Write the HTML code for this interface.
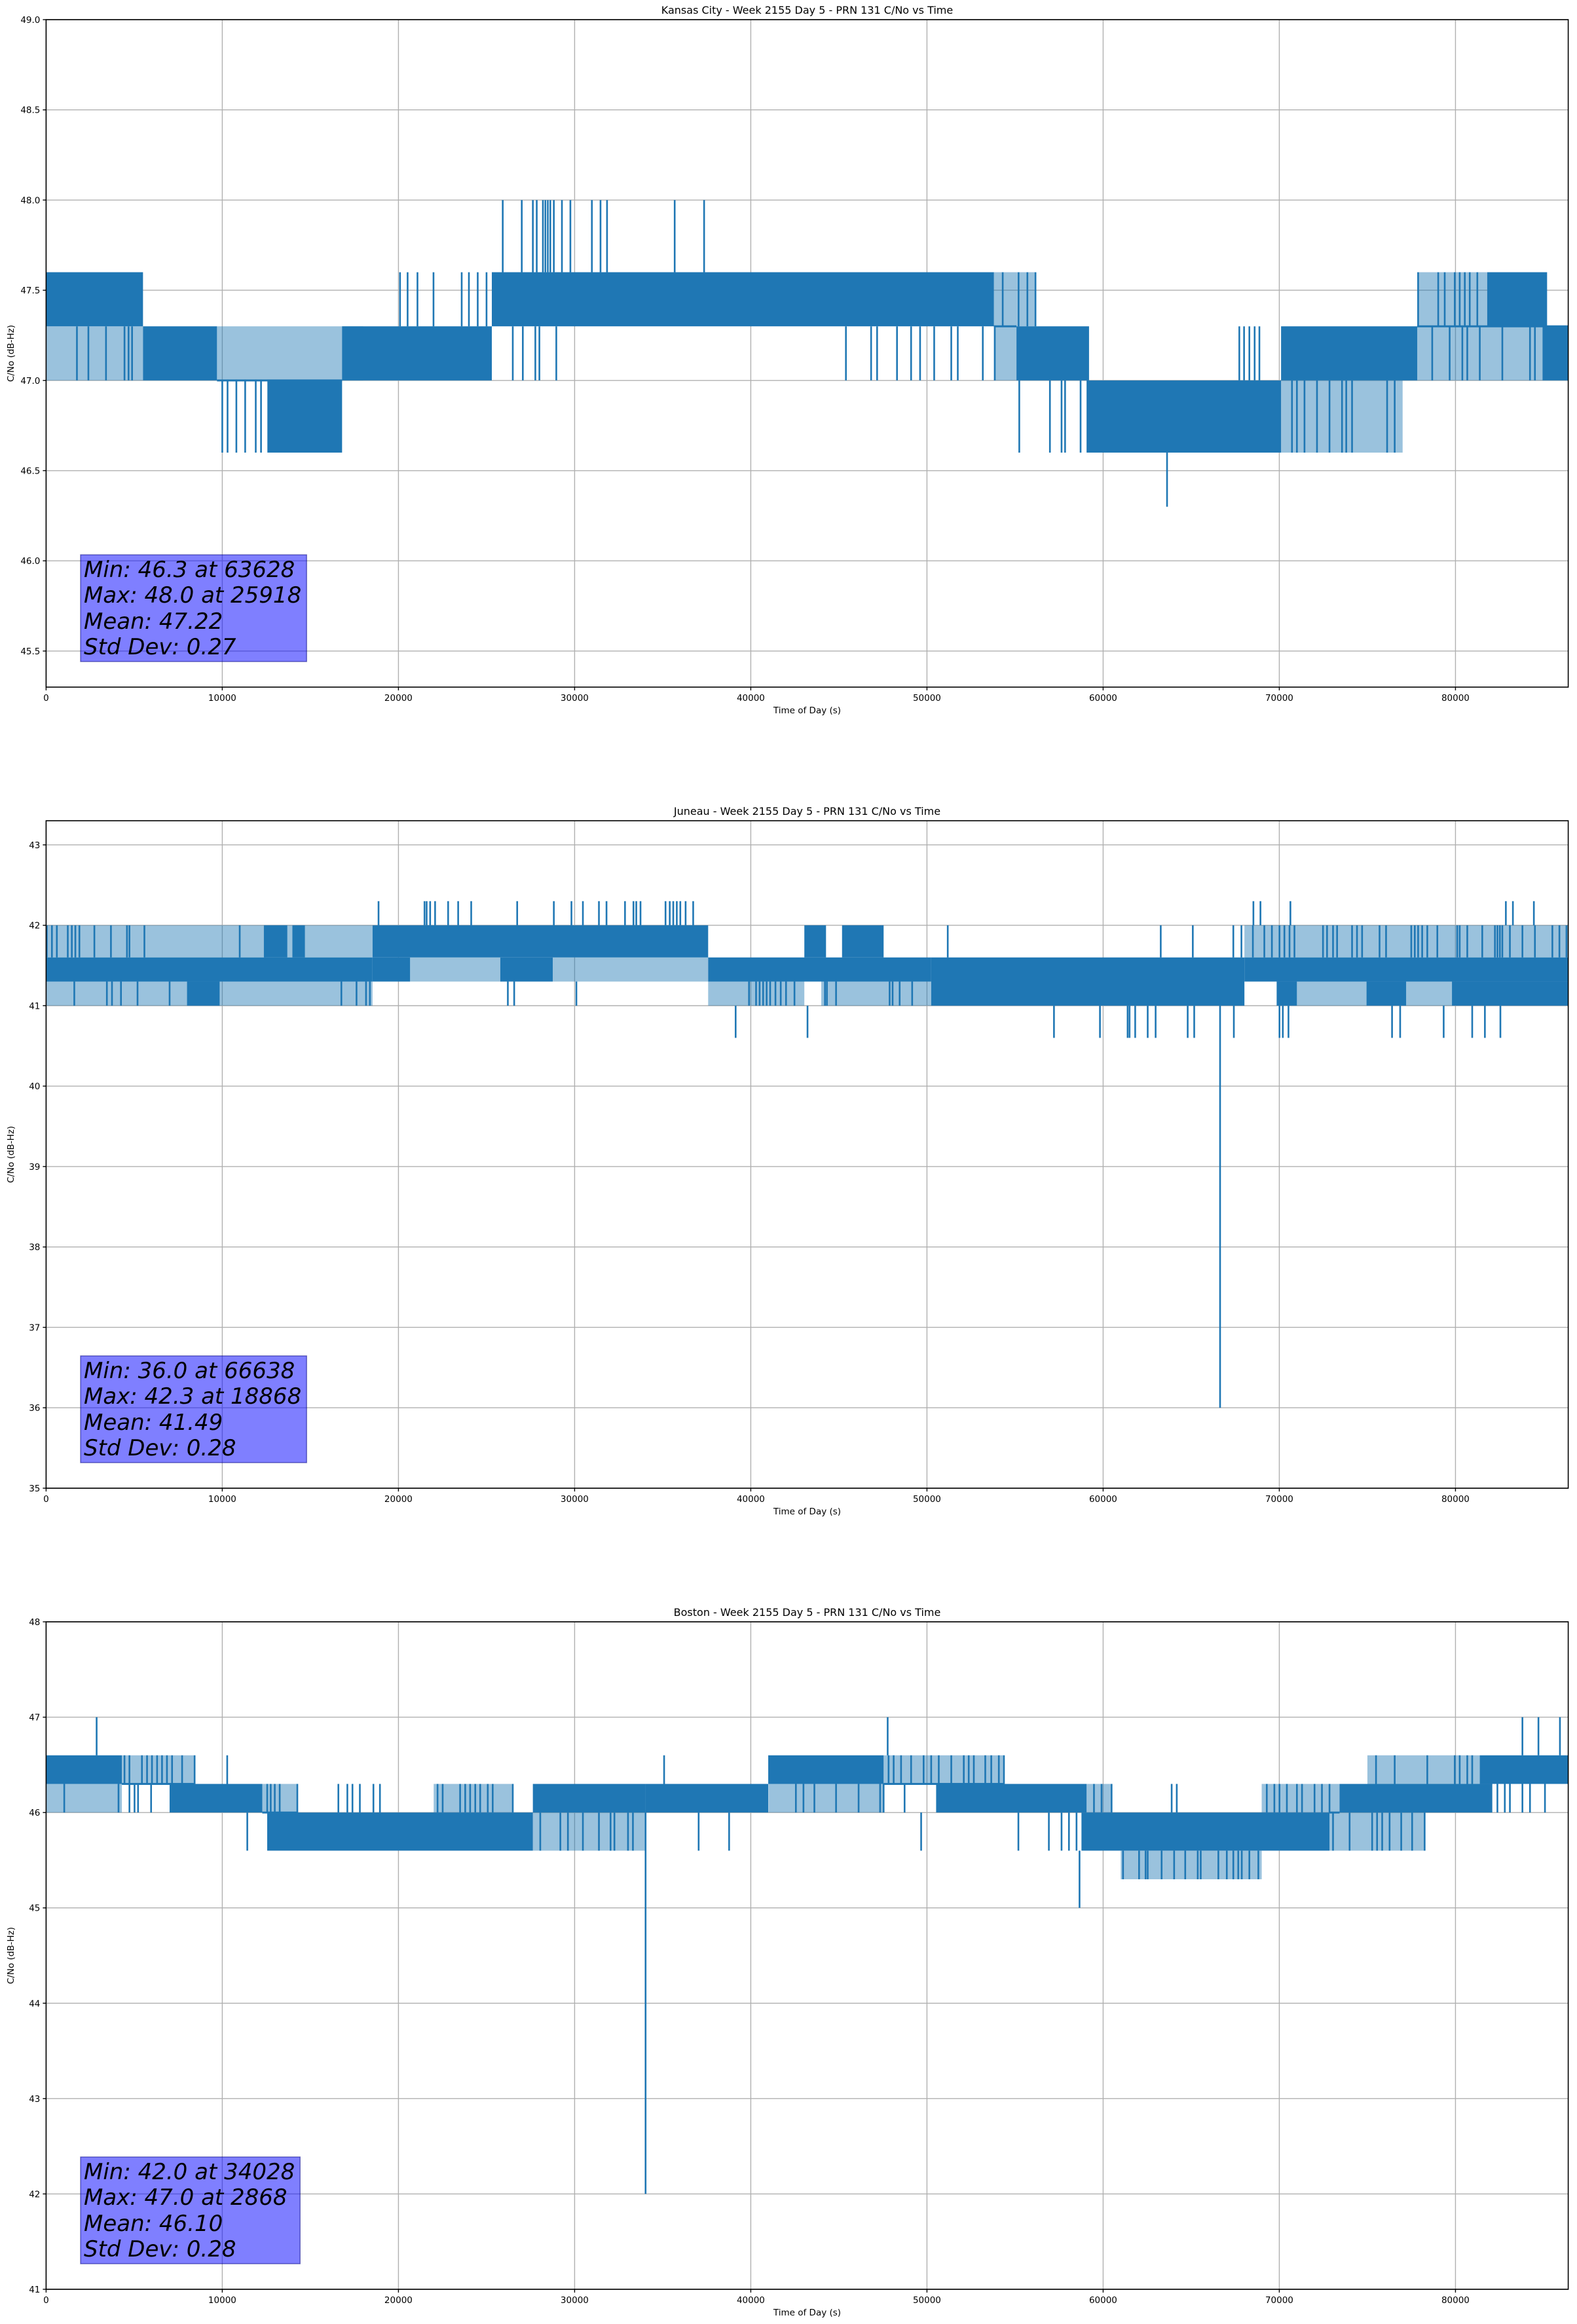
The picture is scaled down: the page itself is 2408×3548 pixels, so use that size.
<!DOCTYPE html>
<html><head><meta charset="utf-8">
<style>
html,body{margin:0;padding:0;background:#fff;}
svg{display:block;font-family:"DejaVu Sans","Liberation Sans",sans-serif;}
</style></head>
<body>
<svg id="fig" width="2408" height="3548" viewBox="0 0 2408 3548" xmlns="http://www.w3.org/2000/svg">
<rect x="0" y="0" width="2408" height="3548" fill="#fff"/>
</svg>
<script>
// ---------- shared axis data ----------
const xTicks = [0,10000,20000,30000,40000,50000,60000,70000,80000];
const xMax = 86400;

// ---------- Plot 1: Kansas City ----------
const p1Title = "Kansas City - Week 2155 Day 5 - PRN 131 C/No vs Time";
const p1YTicks = [45.5,46.0,46.5,47.0,47.5,48.0,48.5,49.0];
const p1YTickLabels = ["45.5","46.0","46.5","47.0","47.5","48.0","48.5","49.0"];
const p1YRange = [45.3,49.0];
const p1BandStart = [0,5500,9700,12560,16800,25300,53800,55080,59060,70100,77830,81800,84940];
const p1BandEnd   = [5500,9700,16800,16800,25300,53800,55080,59200,70100,77830,86400,85200,86400];
const p1BandLow   = [47.3,47.0,47.0,46.6,47.0,47.3,47.3,47.0,46.6,47.0,47.3,47.3,47.0];
const p1BandHigh  = [47.6,47.3,47.0,47.0,47.3,47.6,47.3,47.3,47.0,47.3,47.3,47.6,47.3];
const p1SparseStart = [9700,0,53800,53800,77830,77830,70100,16800];
const p1SparseEnd   = [16800,5500,56160,55080,81800,84940,77000,18000];
const p1SparseLow   = [47.0,47.0,47.3,47.0,47.3,47.0,46.6,47.0];
const p1SparseHigh  = [47.3,47.3,47.6,47.3,47.6,47.3,47.0,47.3];
const p1SpikeTime = [25920,27000,27630,27850,28200,28340,28480,28620,28820,29280,29760,30980,31470,31840,35680,37350,
  1750,2400,3400,4450,4680,4880,26490,27060,27770,28000,28960,
  20090,20520,21080,21990,23590,24000,24500,25000,
  45400,46830,47170,48300,49100,49610,50410,51380,51750,53170,53850,
  54300,55200,55700,56160,
  55240,56980,57640,57840,58720,
  67730,68000,68300,68600,68870,
  70720,71000,71430,72140,72850,73560,73800,74130,76120,76550,
  77880,79020,79390,79960,80240,80530,80810,81240,
  78680,79670,80390,80670,81380,82660,84230,84510,
  10000,10300,10800,11300,11900,12200,
  63628];
const p1SpikeLow = [47.6,47.6,47.6,47.6,47.6,47.6,47.6,47.6,47.6,47.6,47.6,47.6,47.6,47.6,47.6,47.6,
  47.0,47.0,47.0,47.0,47.0,47.0,47.0,47.0,47.0,47.0,47.0,
  47.3,47.3,47.3,47.3,47.3,47.3,47.3,47.3,
  47.0,47.0,47.0,47.0,47.0,47.0,47.0,47.0,47.0,47.0,47.0,
  47.3,47.3,47.3,47.3,
  46.6,46.6,46.6,46.6,46.6,
  47.0,47.0,47.0,47.0,47.0,
  46.6,46.6,46.6,46.6,46.6,46.6,46.6,46.6,46.6,46.6,
  47.3,47.3,47.3,47.3,47.3,47.3,47.3,47.3,
  47.0,47.0,47.0,47.0,47.0,47.0,47.0,47.0,
  46.6,46.6,46.6,46.6,46.6,46.6,
  46.3];
const p1SpikeHigh = [48.0,48.0,48.0,48.0,48.0,48.0,48.0,48.0,48.0,48.0,48.0,48.0,48.0,48.0,48.0,48.0,
  47.3,47.3,47.3,47.3,47.3,47.3,47.3,47.3,47.3,47.3,47.3,
  47.6,47.6,47.6,47.6,47.6,47.6,47.6,47.6,
  47.3,47.3,47.3,47.3,47.3,47.3,47.3,47.3,47.3,47.3,47.3,
  47.6,47.6,47.6,47.6,
  47.0,47.0,47.0,47.0,47.0,
  47.3,47.3,47.3,47.3,47.3,
  47.0,47.0,47.0,47.0,47.0,47.0,47.0,47.0,47.0,47.0,
  47.6,47.6,47.6,47.6,47.6,47.6,47.6,47.6,
  47.3,47.3,47.3,47.3,47.3,47.3,47.3,47.3,
  47.0,47.0,47.0,47.0,47.0,47.0,
  46.6];
const p1Stats = ["Min: 46.3 at 63628","Max: 48.0 at 25918","Mean: 47.22","Std Dev: 0.27"];

// ---------- Plot 2: Juneau ----------
const p2Title = "Juneau - Week 2155 Day 5 - PRN 131 C/No vs Time";
const p2YTicks = [35,36,37,38,39,40,41,42,43];
const p2YTickLabels = ["35","36","37","38","39","40","41","42","43"];
const p2YRange = [35.0,43.3];
const p2BandStart = [0,8000,12410,13980,18530,18530,25780,37580,43040,45180,50240,68020,69850,74950,79800];
const p2BandEnd   = [18530,9850,13690,14690,37580,20660,28760,50240,44270,47540,68020,86400,71000,77200,86400];
const p2BandLow   = [41.3,41.0,41.6,41.6,41.6,41.3,41.3,41.3,41.6,41.6,41.0,41.3,41.0,41.0,41.0];
const p2BandHigh  = [41.6,41.3,42.0,42.0,42.0,41.6,41.6,41.6,42.0,42.0,41.6,41.6,41.3,41.3,41.3];
const p2SparseStart = [20660,28760,0,0,37580,44000,68020,71000,77200];
const p2SparseEnd   = [25780,37580,18530,18530,43040,50240,86400,74950,79800];
const p2SparseLow   = [41.3,41.3,41.6,41.0,41.0,41.0,41.6,41.0,41.0];
const p2SparseHigh  = [41.6,41.6,42.0,41.3,41.3,41.3,42.0,41.3,41.3];
const p2SpikeTime = [18870,21480,21600,21800,22080,22820,23390,24130,26740,28820,29820,30470,31380,31810,32860,33340,33500,33740,35160,35400,35600,35800,36000,36300,36730,68530,68930,70630,82860,83260,84450,
  40,330,610,1230,1460,1660,1890,2740,3680,4590,4730,5580,10990,12410,51180,63270,65090,67390,
  67850,68500,69150,69580,70010,70290,70580,70860,72480,72710,73050,73280,74130,74410,74700,75690,76060,77490,77690,77880,78110,78400,78970,80100,80240,80670,81520,82240,82380,82520,82660,83090,83800,84510,85500,85900,86300,
  1600,3450,3740,4250,5190,7010,16760,17620,18160,18380,26210,26570,30100,
  39900,40300,40500,40700,40900,41100,41400,41700,42000,42480,44210,44320,44840,47880,48050,48450,49160,
  39140,43220,57210,59820,61390,61500,61820,62530,62980,64800,65170,67420,70010,70200,70520,76400,76860,79330,80950,81670,82550,
  66638];
const p2SpikeLow = [42.0,42.0,42.0,42.0,42.0,42.0,42.0,42.0,42.0,42.0,42.0,42.0,42.0,42.0,42.0,42.0,42.0,42.0,42.0,42.0,42.0,42.0,42.0,42.0,42.0,42.0,42.0,42.0,42.0,42.0,42.0,
  41.6,41.6,41.6,41.6,41.6,41.6,41.6,41.6,41.6,41.6,41.6,41.6,41.6,41.6,41.6,41.6,41.6,41.6,
  41.6,41.6,41.6,41.6,41.6,41.6,41.6,41.6,41.6,41.6,41.6,41.6,41.6,41.6,41.6,41.6,41.6,41.6,41.6,41.6,41.6,41.6,41.6,41.6,41.6,41.6,41.6,41.6,41.6,41.6,41.6,41.6,41.6,41.6,41.6,41.6,41.6,
  41.0,41.0,41.0,41.0,41.0,41.0,41.0,41.0,41.0,41.0,41.0,41.0,41.0,
  41.0,41.0,41.0,41.0,41.0,41.0,41.0,41.0,41.0,41.0,41.0,41.0,41.0,41.0,41.0,41.0,41.0,
  40.6,40.6,40.6,40.6,40.6,40.6,40.6,40.6,40.6,40.6,40.6,40.6,40.6,40.6,40.6,40.6,40.6,40.6,40.6,40.6,40.6,
  36.0];
const p2SpikeHigh = [42.3,42.3,42.3,42.3,42.3,42.3,42.3,42.3,42.3,42.3,42.3,42.3,42.3,42.3,42.3,42.3,42.3,42.3,42.3,42.3,42.3,42.3,42.3,42.3,42.3,42.3,42.3,42.3,42.3,42.3,42.3,
  42.0,42.0,42.0,42.0,42.0,42.0,42.0,42.0,42.0,42.0,42.0,42.0,42.0,42.0,42.0,42.0,42.0,42.0,
  42.0,42.0,42.0,42.0,42.0,42.0,42.0,42.0,42.0,42.0,42.0,42.0,42.0,42.0,42.0,42.0,42.0,42.0,42.0,42.0,42.0,42.0,42.0,42.0,42.0,42.0,42.0,42.0,42.0,42.0,42.0,42.0,42.0,42.0,42.0,42.0,42.0,
  41.3,41.3,41.3,41.3,41.3,41.3,41.3,41.3,41.3,41.3,41.3,41.3,41.3,
  41.3,41.3,41.3,41.3,41.3,41.3,41.3,41.3,41.3,41.3,41.3,41.3,41.3,41.3,41.3,41.3,41.3,
  41.0,41.0,41.0,41.0,41.0,41.0,41.0,41.0,41.0,41.0,41.0,41.0,41.0,41.0,41.0,41.0,41.0,41.0,41.0,41.0,41.0,
  41.0];
const p2Stats = ["Min: 36.0 at 66638","Max: 42.3 at 18868","Mean: 41.49","Std Dev: 0.28"];

// ---------- Plot 3: Boston ----------
const p3Title = "Boston - Week 2155 Day 5 - PRN 131 C/No vs Time";
const p3YTicks = [41,42,43,44,45,46,47,48];
const p3YTickLabels = ["41","42","43","44","45","46","47","48"];
const p3YRange = [41.0,48.0];
const p3BandStart = [0,4300,7010,12270,12550,27630,34020,40990,47540,50520,58770,72850,73420,81380];
const p3BandEnd   = [4300,8430,12270,14300,27630,34020,40990,47540,54370,59060,72850,73420,82090,86400];
const p3BandLow   = [46.3,46.3,46.0,46.0,45.6,46.0,46.0,46.3,46.3,46.0,45.6,46.0,46.0,46.3];
const p3BandHigh  = [46.6,46.3,46.3,46.0,46.0,46.3,46.3,46.6,46.3,46.3,46.0,46.0,46.3,46.6];
const p3SparseStart = [4300,12270,22000,27630,47540,59060,69000,72850,75000,61000,0,41000];
const p3SparseEnd   = [8430,14300,26500,34020,54370,60500,73420,78250,81380,69000,4300,47540];
const p3SparseLow   = [46.3,46.0,46.0,45.6,46.3,46.0,46.0,45.6,46.3,45.3,46.0,46.0];
const p3SparseHigh  = [46.6,46.3,46.3,46.0,46.6,46.3,46.3,46.0,46.6,45.6,46.3,46.3];
const p3SpikeTime = [2868,47770,83800,84710,85930,
  34028,58660,
  61130,62040,62410,62530,63320,64030,64660,65370,65540,66540,67020,67390,67670,67870,68300,68810,
  11420,28050,29190,29620,30470,31380,32040,32260,33030,33310,37040,38770,49670,55190,56920,57640,58060,58490,73050,73990,75270,75550,75840,76260,76920,77540,78250,
  12550,12750,12980,13260,14260,16590,17100,17390,17810,18580,18950,22220,22510,23500,23790,24070,24360,24640,25070,25350,26490,59480,59910,60480,63890,64180,69290,69720,70010,70430,71000,71290,72000,72420,72850,
  4450,4730,5440,5730,6010,6300,6580,6860,7150,7720,8430,10280,35080,47820,48110,48530,49100,49810,50240,50670,51380,52090,52370,52660,53310,53650,54080,54370,75490,76550,78400,79960,80240,80670,80950,
  1030,4110,4730,5020,5220,5960,42560,42990,43610,44840,46120,47340,47540,48730,82380,82800,83090,83800,84230,85080];
const p3SpikeLow = [46.6,46.6,46.6,46.6,46.6,
  42.0,45.0,
  45.3,45.3,45.3,45.3,45.3,45.3,45.3,45.3,45.3,45.3,45.3,45.3,45.3,45.3,45.3,45.3,
  45.6,45.6,45.6,45.6,45.6,45.6,45.6,45.6,45.6,45.6,45.6,45.6,45.6,45.6,45.6,45.6,45.6,45.6,45.6,45.6,45.6,45.6,45.6,45.6,45.6,45.6,45.6,
  46.0,46.0,46.0,46.0,46.0,46.0,46.0,46.0,46.0,46.0,46.0,46.0,46.0,46.0,46.0,46.0,46.0,46.0,46.0,46.0,46.0,46.0,46.0,46.0,46.0,46.0,46.0,46.0,46.0,46.0,46.0,46.0,46.0,46.0,46.0,
  46.3,46.3,46.3,46.3,46.3,46.3,46.3,46.3,46.3,46.3,46.3,46.3,46.3,46.3,46.3,46.3,46.3,46.3,46.3,46.3,46.3,46.3,46.3,46.3,46.3,46.3,46.3,46.3,46.3,46.3,46.3,46.3,46.3,46.3,46.3,
  46.0,46.0,46.0,46.0,46.0,46.0,46.0,46.0,46.0,46.0,46.0,46.0,46.0,46.0,46.0,46.0,46.0,46.0,46.0,46.0];
const p3SpikeHigh = [47.0,47.0,47.0,47.0,47.0,
  46.0,45.6,
  45.6,45.6,45.6,45.6,45.6,45.6,45.6,45.6,45.6,45.6,45.6,45.6,45.6,45.6,45.6,45.6,
  46.0,46.0,46.0,46.0,46.0,46.0,46.0,46.0,46.0,46.0,46.0,46.0,46.0,46.0,46.0,46.0,46.0,46.0,46.0,46.0,46.0,46.0,46.0,46.0,46.0,46.0,46.0,
  46.3,46.3,46.3,46.3,46.3,46.3,46.3,46.3,46.3,46.3,46.3,46.3,46.3,46.3,46.3,46.3,46.3,46.3,46.3,46.3,46.3,46.3,46.3,46.3,46.3,46.3,46.3,46.3,46.3,46.3,46.3,46.3,46.3,46.3,46.3,
  46.6,46.6,46.6,46.6,46.6,46.6,46.6,46.6,46.6,46.6,46.6,46.6,46.6,46.6,46.6,46.6,46.6,46.6,46.6,46.6,46.6,46.6,46.6,46.6,46.6,46.6,46.6,46.6,46.6,46.6,46.6,46.6,46.6,46.6,46.6,
  46.3,46.3,46.3,46.3,46.3,46.3,46.3,46.3,46.3,46.3,46.3,46.3,46.3,46.3,46.3,46.3,46.3,46.3,46.3,46.3];
const p3Stats = ["Min: 42.0 at 34028","Max: 47.0 at 2868","Mean: 46.10","Std Dev: 0.28"];

// ---------- rendering ----------
const NS = "http://www.w3.org/2000/svg";
const fig = document.getElementById("fig");
const AX_LEFT = 70.4, AX_RIGHT = 2394.6, AX_H = 1019;
const LINE = "#1f77b4";

function mk(tag, attrs, parent){
  const e = document.createElementNS(NS, tag);
  for (const k in attrs) e.setAttribute(k, attrs[k]);
  (parent||fig).appendChild(e);
  return e;
}

function drawPlot(key, top, title, yTicks, yTickLabels, yRange, bS, bE, bL, bH, qS, qE, qL, qH, sT, sL, sH, stats){
  const bottom = top + AX_H;
  const xs = t => AX_LEFT + (t / xMax) * (AX_RIGHT - AX_LEFT);
  const ys = v => bottom - (v - yRange[0]) / (yRange[1] - yRange[0]) * AX_H;
  const g = mk("g", {});
  
  

  const grid = mk("g", {stroke:"#b0b0b0","stroke-width":"1.4"}, g);
  
  
  xTicks.forEach(t => mk("line",{x1:xs(t),x2:xs(t),y1:top,y2:bottom}, grid));
  yTicks.forEach(v => mk("line",{x1:AX_LEFT,x2:AX_RIGHT,y1:ys(v),y2:ys(v)}, grid));

  const ser = mk("g", {fill:LINE, stroke:LINE}, g);
  
  
  for (let i = 0; i < qS.length; i++){
    const r = mk("rect", {x:xs(qS[i]), y:ys(qH[i]), width:Math.max(1, xs(qE[i]) - xs(qS[i])), height:ys(qL[i]) - ys(qH[i]), stroke:"none", "fill-opacity":"0.45"}, ser);
    
    
  }
  for (let i = 0; i < bS.length; i++){
    const x0 = xs(bS[i]), x1 = xs(bE[i]);
    let y0 = ys(bH[i]), y1 = ys(bL[i]);
    if (y1 - y0 < 3){ y0 -= 1.5; y1 = y0 + 3; }
    const r = mk("rect", {x:x0, y:y0, width:Math.max(1, x1 - x0), height:y1 - y0, stroke:"none"}, ser);
    
    
  }
  for (let i = 0; i < sT.length; i++){
    const l = mk("line", {x1:xs(sT[i]), x2:xs(sT[i]), y1:ys(sL[i]), y2:ys(sH[i]), "stroke-width":"2.6"}, ser);
    
    
  }

  const box = mk("g", {}, g);
  
  
  const boxBottom = bottom - 39, boxTop = boxBottom - 163;
  const rect = mk("rect", {x:123, y:boxTop, width:350, height:163, fill:"rgba(0,0,255,0.5)", stroke:"rgba(0,0,128,0.5)", "stroke-width":"1.5"}, box);
  const offs = [34, 73, 113, 152];
  let maxW = 0;
  stats.forEach((s, i) => {
    const tx = mk("text", {x:128, y:boxTop + offs[i], "font-size":"34", "font-style":"oblique", fill:"#000"}, box);
    tx.textContent = s;
    
    
    maxW = Math.max(maxW, tx.getComputedTextLength());
  });
  rect.setAttribute("width", maxW + 13);

  const sp = mk("rect", {x:AX_LEFT, y:top, width:AX_RIGHT - AX_LEFT, height:AX_H, fill:"none", stroke:"#000", "stroke-width":"1.6"}, g);
  
  

  const xa = mk("g", {}, g);
  
  
  xTicks.forEach(t => {
    mk("line", {x1:xs(t), x2:xs(t), y1:bottom, y2:bottom + 5, stroke:"#000", "stroke-width":"1.4"}, xa);
    const tl = mk("text", {x:xs(t), y:bottom + 21, "font-size":"13.5", "text-anchor":"middle", fill:"#000"}, xa);
    tl.textContent = String(t);
    
    
  });
  const xl = mk("text", {x:(AX_LEFT + AX_RIGHT) / 2, y:bottom + 40, "font-size":"13.5", "text-anchor":"middle", fill:"#000"}, xa);
  xl.textContent = "Time of Day (s)";
  
  

  const ya = mk("g", {}, g);
  
  
  yTicks.forEach((v, i) => {
    mk("line", {x1:AX_LEFT - 5, x2:AX_LEFT, y1:ys(v), y2:ys(v), stroke:"#000", "stroke-width":"1.4"}, ya);
    const tl = mk("text", {x:AX_LEFT - 9, y:ys(v) + 5, "font-size":"13.5", "text-anchor":"end", fill:"#000"}, ya);
    tl.textContent = yTickLabels[i];
    
    
  });
  const cy = top + AX_H / 2;
  const yl = mk("text", {x:0, y:0, "font-size":"13.5", "text-anchor":"middle", fill:"#000", transform:"translate(21," + cy + ") rotate(-90)"}, ya);
  yl.textContent = "C/No (dB-Hz)";
  
  

  const tt = mk("text", {x:(AX_LEFT + AX_RIGHT) / 2, y:top - 9, "font-size":"16", "text-anchor":"middle", fill:"#000"}, g);
  tt.textContent = title;
  
  
}

drawPlot("kansas-city", 30, p1Title, p1YTicks, p1YTickLabels, p1YRange, p1BandStart, p1BandEnd, p1BandLow, p1BandHigh, p1SparseStart, p1SparseEnd, p1SparseLow, p1SparseHigh, p1SpikeTime, p1SpikeLow, p1SpikeHigh, p1Stats);
drawPlot("juneau", 1253, p2Title, p2YTicks, p2YTickLabels, p2YRange, p2BandStart, p2BandEnd, p2BandLow, p2BandHigh, p2SparseStart, p2SparseEnd, p2SparseLow, p2SparseHigh, p2SpikeTime, p2SpikeLow, p2SpikeHigh, p2Stats);
drawPlot("boston", 2476, p3Title, p3YTicks, p3YTickLabels, p3YRange, p3BandStart, p3BandEnd, p3BandLow, p3BandHigh, p3SparseStart, p3SparseEnd, p3SparseLow, p3SparseHigh, p3SpikeTime, p3SpikeLow, p3SpikeHigh, p3Stats);
</script>
</body></html>
